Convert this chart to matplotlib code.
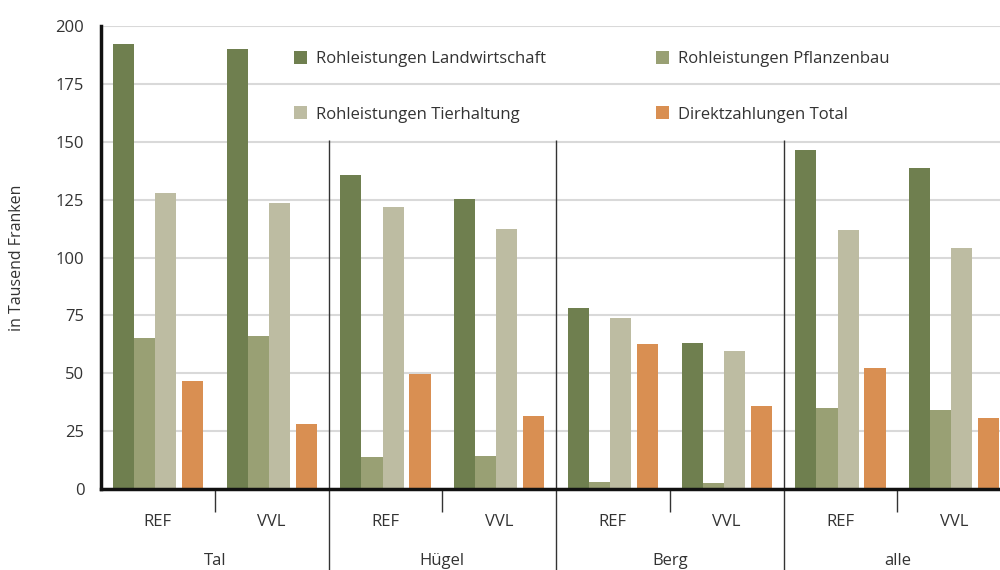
import numpy as np
import matplotlib.pyplot as plt

plt.rcParams['font.family'] = ['Open Sans', 'DejaVu Sans']

regions = ["Tal", "Hügel", "Berg", "alle"]
scenarios = ["REF", "VVL"]
series = ["Rohleistungen Landwirtschaft", "Rohleistungen Pflanzenbau",
          "Rohleistungen Tierhaltung", "Direktzahlungen Total"]

# order: Tal REF, Tal VVL, Hügel REF, Hügel VVL, Berg REF, Berg VVL, alle REF, alle VVL
landwirtschaft = [192.2, 190.0, 135.6, 125.3, 78.2, 63.1, 146.4, 138.7]
pflanzenbau = [65.2, 66.1, 13.8, 14.3, 3.0, 2.6, 35.0, 34.1]
tierhaltung = [127.9, 123.5, 121.8, 112.3, 73.9, 59.6, 111.9, 104.1]
direktzahlungen = [46.7, 28.1, 49.7, 31.5, 62.6, 35.9, 52.3, 30.7]

yticks = [0, 25, 50, 75, 100, 125, 150, 175, 200]

colors = ["#6f7f4f", "#99a074", "#bdbca2", "#d98f52"]
values = [landwirtschaft, pflanzenbau, tierhaltung, direktzahlungen]
offsets = [0.105, 0.29, 0.475, 0.712]
width = 0.185
text_col = "#333333"

fig = plt.figure(figsize=(10, 5.7), dpi=100)
ax = fig.add_axes([0.101, 0.142, 0.91, 0.812])

x = np.arange(len(landwirtschaft))
bars = []
for vals, off, col, lab in zip(values, offsets, colors, series):
    b = ax.bar(x + off, vals, width=width, align="edge", color=col, label=lab, zorder=3)
    bars.append(b)

ax.set_xlim(0, 8)
ax.set_ylim(0, 200)
ax.set_yticks(yticks)
ax.yaxis.grid(True, color="#d9d9d9", linewidth=1.5, zorder=0)
ax.set_xticks([])
ax.tick_params(axis="y", length=0, pad=12, labelsize=12, labelcolor=text_col)

for s in ["top", "right"]:
    ax.spines[s].set_visible(False)
ax.spines["left"].set_linewidth(2.5)
ax.spines["bottom"].set_linewidth(2.5)
ax.spines["left"].set_color("#111111")
ax.spines["bottom"].set_color("#111111")
ax.spines["bottom"].set_zorder(4)

ax.set_ylabel("in Tausend Franken", fontsize=11.5, color=text_col, labelpad=22)

# category labels
for i in range(len(x)):
    ax.text(i + 0.5, -14.3, scenarios[i % 2], ha="center", va="center",
            fontsize=12, color=text_col, clip_on=False)
for j, r in enumerate(regions):
    ax.text(2 * j + 1, -31.0, r, ha="center", va="center",
            fontsize=12, color=text_col, clip_on=False)
    ax.vlines(2 * j + 1, -10, 0, color="#333333", linewidth=1, clip_on=False)
for j in range(1, 4):
    ax.vlines(2 * j, -35, 150.8, color="#333333", linewidth=1, clip_on=False, zorder=2)

handles = [bars[0], bars[2], bars[1], bars[3]]
labels = [series[0], series[2], series[1], series[3]]
ax.legend(handles, labels, ncol=2, frameon=False, fontsize=12,
          loc="upper left", bbox_to_anchor=(0.279, 1 - 36 / 570),
          bbox_transform=fig.transFigure, handlelength=0.8, handleheight=0.8,
          handletextpad=0.55, labelspacing=2.35, columnspacing=6.55,
          labelcolor=text_col)

fig.savefig("out.png", dpi=100)
